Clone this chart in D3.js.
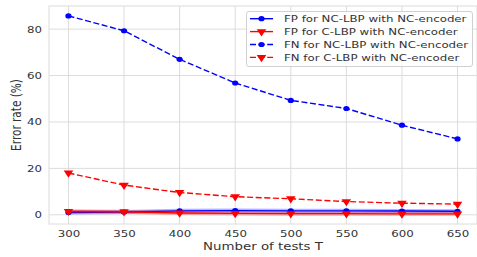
<!DOCTYPE html>
<html>
<head>
<meta charset="utf-8">
<script src="https://cdn.jsdelivr.net/npm/d3@7"></script>
<style>
	body { margin: 0; background: #fff; }
	svg { display: block; font-family: 'DejaVu Sans', sans-serif; }
</style>
</head>
<body>
<div data-chart></div>
<script>
const tests = [300, 350, 400, 450, 500, 550, 600, 650]
const fpNcLbp = [1.0, 1.2, 1.7, 1.8, 1.7, 1.7, 1.6, 1.5]
const fpCLbp = [1.5, 1.3, 0.8, 0.6, 0.5, 0.5, 0.4, 0.4]
const fnNcLbp = [85.7, 79.3, 67.0, 56.8, 49.3, 45.8, 38.6, 32.7]
const fnCLbp = [18.0, 12.8, 9.6, 7.8, 6.9, 5.7, 5.0, 4.6]
const yTicks = [0, 20, 40, 60, 80]

const series = [
	{ name: 'FP for NC-LBP with NC-encoder', values: fpNcLbp, color: '#0000ff', dashed: false, marker: 'circle' },
	{ name: 'FP for C-LBP with NC-encoder', values: fpCLbp, color: '#ff0000', dashed: false, marker: 'triangle' },
	{ name: 'FN for NC-LBP with NC-encoder', values: fnNcLbp, color: '#0000ff', dashed: true, marker: 'circle' },
	{ name: 'FN for C-LBP with NC-encoder', values: fnCLbp, color: '#ff0000', dashed: true, marker: 'triangle' }
]

const dimensions = {
	width: 477,
	height: 257,
	left: 49,
	right: 477,
	top: 6,
	bottom: 224
}

// the reference is stretched horizontally, so glyphs get a wider aspect
const stretch = 1.27

const svg = d3.select('[data-chart]')
	.append('svg')
	.attr('width', dimensions.width)
	.attr('height', dimensions.height)

const xScale = d3.scaleLinear()
	.domain([282.5, 667.5])
	.range([dimensions.left, dimensions.right])

const yScale = d3.scaleLinear()
	.domain([-3.97, 89.97])
	.range([dimensions.bottom, dimensions.top])

/* Grid */
svg.append('g')
	.selectAll('line')
	.data(tests)
	.join('line')
	.attr('x1', (d) => xScale(d))
	.attr('x2', (d) => xScale(d))
	.attr('y1', dimensions.top)
	.attr('y2', dimensions.bottom)
	.attr('stroke', '#dcdcdc')
	.attr('stroke-width', 1)

svg.append('g')
	.selectAll('line')
	.data(yTicks)
	.join('line')
	.attr('x1', dimensions.left)
	.attr('x2', dimensions.right)
	.attr('y1', (d) => yScale(d))
	.attr('y2', (d) => yScale(d))
	.attr('stroke', '#dcdcdc')
	.attr('stroke-width', 1)

svg.append('rect')
	.attr('x', dimensions.left)
	.attr('y', dimensions.top)
	.attr('width', dimensions.right - dimensions.left)
	.attr('height', dimensions.bottom - dimensions.top)
	.attr('fill', 'none')
	.attr('stroke', '#dcdcdc')
	.attr('stroke-width', 1)

/* Axes */
const xAxis = svg.append('g')
	.attr('transform', `translate(0, ${dimensions.bottom})`)
	.call(d3.axisBottom(xScale).tickValues(tests).tickSize(0).tickPadding(0))

const yAxis = svg.append('g')
	.attr('transform', `translate(${dimensions.left}, 0)`)
	.call(d3.axisLeft(yScale).tickValues(yTicks).tickSize(0).tickPadding(5.5))

;[xAxis, yAxis].forEach((axis) => {
	axis.select('.domain').remove()
	axis.selectAll('text')
		.attr('fill', '#333')
		.attr('transform', `scale(${stretch}, 1)`)
		.style('font-size', '9.3px')
		.style('font-family', "'DejaVu Sans', sans-serif")
})

xAxis.selectAll('text')
	.attr('dy', null)
	.attr('y', 13)

svg.append('text')
	.attr('transform', `translate(${(dimensions.left + dimensions.right) / 2}, 249.5) scale(${stretch}, 1)`)
	.attr('text-anchor', 'middle')
	.attr('fill', '#333')
	.style('font-size', '10.5px')
	.text('Number of tests T')

svg.append('text')
	.attr('transform', `translate(20.5, ${(dimensions.top + dimensions.bottom) / 2}) scale(${stretch}, 1) rotate(-90)`)
	.attr('text-anchor', 'middle')
	.attr('fill', '#333')
	.style('font-size', '10.5px')
	.text('Error rate (%)')

/* Lines */
const triangle = d3.symbol().type(d3.symbolTriangle).size(30)

const drawMarker = (g, marker, color, x, y) => {
	if (marker === 'circle') {
		g.append('ellipse')
			.attr('cx', x)
			.attr('cy', y)
			.attr('rx', 3.1)
			.attr('ry', 2.6)
			.attr('fill', color)
	} else {
		g.append('path')
			.attr('d', triangle)
			.attr('transform', `translate(${x}, ${y}) scale(1.15, 1) rotate(180)`)
			.attr('fill', color)
	}
}

series.forEach((s) => {
	const points = tests.map((t, i) => [xScale(t), yScale(s.values[i])])
	const g = svg.append('g')

	if (!s.dashed) {
		g.append('path')
			.attr('d', d3.line()(points))
			.attr('fill', 'none')
			.attr('stroke', s.color)
			.attr('stroke-opacity', 0.3)
			.attr('stroke-width', 4)
	}

	g.append('path')
		.attr('d', d3.line()(points))
		.attr('fill', 'none')
		.attr('stroke', s.color)
		.attr('stroke-width', 1.4)
		.attr('stroke-dasharray', s.dashed ? '6,2.6' : null)

	points.forEach(([x, y]) => drawMarker(g, s.marker, s.color, x, y))
})

/* Legend */
const legend = svg.append('g')

legend.append('rect')
	.attr('x', 246.5)
	.attr('y', 11.5)
	.attr('width', 226)
	.attr('height', 55)
	.attr('rx', 2.5)
	.attr('fill', '#fff')
	.attr('fill-opacity', 0.8)
	.attr('stroke', '#d0d0d0')

series.forEach((s, i) => {
	const y = 18.7 + i * 12.9
	const row = legend.append('g')

	row.append('line')
		.attr('x1', 250)
		.attr('x2', 273)
		.attr('y1', y)
		.attr('y2', y)
		.attr('stroke', s.color)
		.attr('stroke-width', 1.4)
		.attr('stroke-dasharray', s.dashed ? '6,2.6' : null)

	drawMarker(row, s.marker, s.color, 261.5, y)

	row.append('text')
		.attr('transform', `translate(284, ${y}) scale(${stretch}, 1)`)
		.attr('dy', '0.35em')
		.attr('fill', '#333')
		.style('font-size', '9.3px')
		.text(s.name)
})
</script>
</body>
</html>
